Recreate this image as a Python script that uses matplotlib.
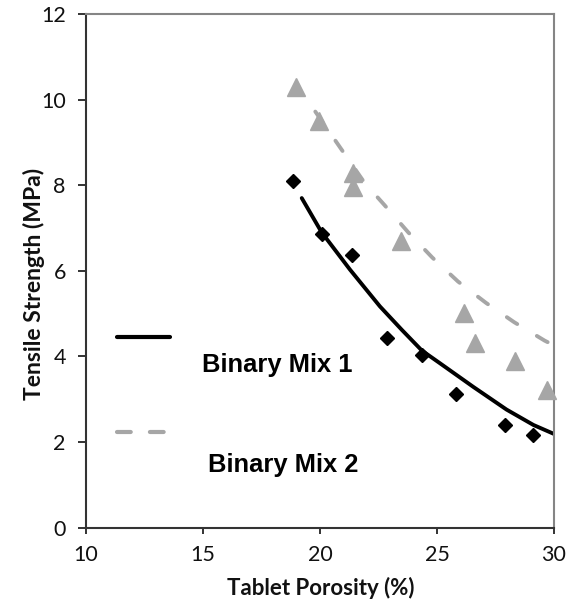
import matplotlib
matplotlib.use("Agg")
import matplotlib.pyplot as plt
from matplotlib.lines import Line2D

# ---- data ----
mix1_porosity = [18.86, 20.07, 21.35, 22.85, 24.35, 25.80, 27.90, 29.12]
mix1_strength = [8.10, 6.86, 6.37, 4.42, 4.03, 3.12, 2.40, 2.17]

mix2_porosity = [18.97, 19.97, 21.42, 21.42, 23.45, 26.15, 26.62, 28.33, 29.69]
mix2_strength = [10.30, 9.49, 8.28, 7.97, 6.69, 5.02, 4.32, 3.90, 3.22]

trend1_porosity = [19.22, 20.07, 21.28, 22.56, 23.5, 24.35, 25.13, 26.55, 27.97, 29.12, 30.0]
trend1_strength = [7.70, 6.90, 6.03, 5.17, 4.62, 4.14, 3.84, 3.29, 2.76, 2.40, 2.19]

trend2_porosity = [19.80, 20.9, 21.9, 22.75, 23.77, 24.8, 25.9, 27.1, 28.3, 29.6, 30.0]
trend2_strength = [9.72, 8.85, 8.06, 7.54, 6.90, 6.31, 5.75, 5.25, 4.80, 4.37, 4.26]

x_ticks = [10, 15, 20, 25, 30]
y_ticks = [0, 2, 4, 6, 8, 10, 12]
legend_labels = ["Binary Mix 1", "Binary Mix 2"]

GRAY = "#a6a6a6"
W, H = 576, 605

fig = plt.figure(figsize=(W / 100, H / 100), dpi=100)
ax = fig.add_axes([86 / W, 1 - 527.7 / H, (554 - 86) / W, (527.7 - 14) / H])

# trend lines
ax.plot(trend1_porosity, trend1_strength, color="black", lw=2.8,
        solid_capstyle="round", solid_joinstyle="round", zorder=2)
ax.plot(trend2_porosity, trend2_strength, color=GRAY, lw=2.8,
        dashes=(3.2, 5.9), dash_capstyle="round", zorder=2)

# data points
ax.plot(mix1_porosity, mix1_strength, linestyle="none", marker="D",
        markersize=7.6, color="black", zorder=3, clip_on=False)
ax.plot(mix2_porosity, mix2_strength, linestyle="none", marker="^",
        markersize=13, color=GRAY, zorder=3, clip_on=False)

ax.set_xlim(10, 30)
ax.set_ylim(0, 12)
ax.set_xticks(x_ticks)
ax.set_yticks(y_ticks)
ax.set_xticklabels([str(v) for v in x_ticks])
ax.set_yticklabels([str(v) for v in y_ticks])

for lab in ax.get_xticklabels() + ax.get_yticklabels():
    lab.set_fontfamily("Lato")
    lab.set_fontsize(15.5)
    lab.set_color("#111111")

ax.tick_params(axis="x", direction="out", length=4.5, width=1.4,
               color="#333333", pad=8)
ax.tick_params(axis="y", direction="out", length=5.5, width=1.4,
               color="#333333", pad=9)

for side in ["left", "bottom"]:
    ax.spines[side].set_color("#333333")
    ax.spines[side].set_linewidth(1.5)
for side in ["top", "right"]:
    ax.spines[side].set_color("#858585")
    ax.spines[side].set_linewidth(1.5)

ax.set_xlabel("Tablet Porosity (%)", fontfamily="Lato", fontweight="bold",
              fontsize=16, color="#111111")
ax.set_ylabel("Tensile Strength (MPa)", fontfamily="Lato", fontweight="bold",
              fontsize=16.5, color="#111111")
ax.xaxis.set_label_coords((320.5 - 86) / (554 - 86), -(588 - 527.7) / (527.7 - 14))
ax.yaxis.set_label_coords(-(86 - 34) / (554 - 86), (527.7 - 284) / (527.7 - 14))
ax.xaxis.label.set_va("center")
ax.yaxis.label.set_va("center")

# legend drawn manually (reference layout is unusual)
fig.add_artist(Line2D([117 / W, 170 / W], [1 - 336.7 / H, 1 - 336.7 / H],
                      color="black", lw=3.0, solid_capstyle="round"))
fig.add_artist(Line2D([117 / W, 165 / W], [1 - 431.7 / H, 1 - 431.7 / H],
                      color=GRAY, lw=3.0, dashes=(3.3, 4.6),
                      dash_capstyle="round"))
fig.text(201.7 / W, 1 - 371.7 / H, legend_labels[0], fontfamily="Liberation Sans",
         fontweight="bold", fontsize=18.4, va="baseline", ha="left", color="black")
fig.text(208.3 / W, 1 - 471.7 / H, legend_labels[1], fontfamily="Liberation Sans",
         fontweight="bold", fontsize=18.4, va="baseline", ha="left", color="black")

fig.savefig("out.png", dpi=100)
